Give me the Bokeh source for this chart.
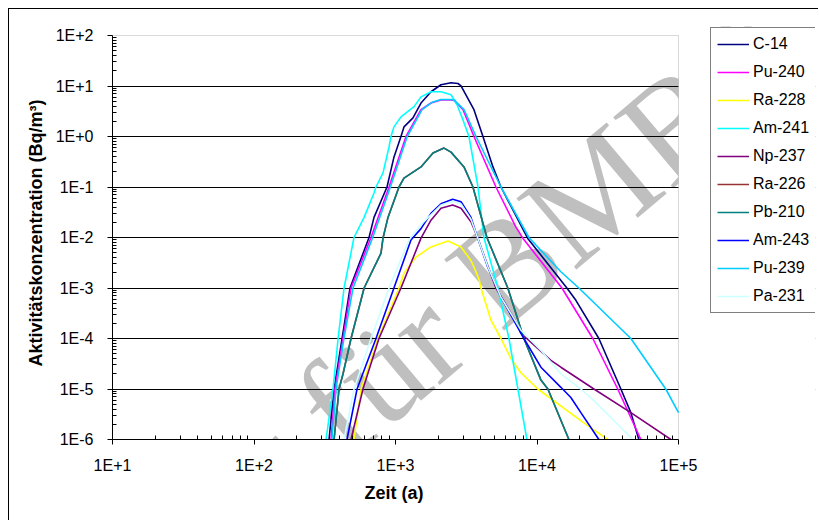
from bokeh.plotting import figure
from bokeh.models import (Range1d, FixedTicker, CustomJSTickFormatter, Label, Legend, LegendItem,
                          Title, Grid, BoxAnnotation)
from bokeh.embed import file_html
from bokeh.resources import INLINE

# ---- data ----
series_names = ["C-14", "Pu-240", "Ra-228", "Am-241", "Np-237",
                "Ra-226", "Pb-210", "Am-243", "Pu-239", "Pa-231"]
series_colors = ["#000080", "#FF00FF", "#FFFF00", "#00FFFF", "#800080",
                 "#993333", "#008080", "#0000FF", "#00CCFF", "#CCFFFF"]

c14_t = [339, 368, 419, 477, 650, 705, 871, 975, 1093, 1148, 1329, 1514, 1782, 2096, 2467, 2763, 2904,
         3585, 4150, 4883, 5560, 8580, 16260, 18830, 27370, 39150, 46060, 52460]
c14_a = [1e-6, 1e-5, 1e-4, 1e-3, 1e-2, 0.025, 0.1, 0.39, 1.0, 1.55, 2.34, 4.6, 7.7, 10.6, 11.6, 11.2, 10.1,
         3.4, 1.0, 0.25, 0.1, 0.0097, 1e-3, 5.7e-4, 1e-4, 1e-5, 3.4e-6, 1e-6]

pu240_t = [350, 374, 426, 485, 671, 900, 1186, 1514, 1782, 2096, 2467, 2590, 3000, 3585, 5126, 7096, 7940,
           15000, 24800, 37200, 54180]
pu240_a = [1e-6, 1e-5, 1e-4, 1e-3, 0.01, 0.1, 1.0, 3.4, 4.6, 5.3, 5.3, 5.2, 3.4, 1.0, 0.1, 0.016, 0.0097,
           1e-3, 1e-4, 1e-5, 1e-6]

ra228_t = [509, 571, 752, 1058, 1148, 1396, 1782, 2350, 2904, 3415, 3585, 3910, 4017, 4726, 5560, 6542,
           7697, 10140, 17350, 24030, 31680]
ra228_a = [1e-6, 1e-5, 1e-4, 1e-3, 0.00197, 0.0041, 0.0065, 0.0085, 0.0065, 0.0035, 0.0026, 0.00143, 1e-3,
           2.3e-4, 1e-4, 4e-5, 2.1e-5, 1e-5, 3.3e-6, 1.7e-6, 1e-6]

am241_t = [323, 362, 393, 433, 509, 600, 705, 728, 816, 900, 929, 975, 1093, 1352, 1514, 1782, 2096, 2467,
           2717, 3000, 3304, 3830, 4217, 5296, 6332, 7331, 8483]
am241_a = [1e-6, 1e-5, 1e-4, 1e-3, 0.01, 0.025, 0.076, 0.1, 0.19, 0.62, 1.0, 1.55, 2.45, 3.9, 6.1, 7.7, 7.7,
           6.7, 4.3, 2.13, 1.0, 0.1, 0.01, 1e-3, 1e-4, 1e-5, 1e-6]

np237_t = [485, 589, 764, 1093, 1514, 1782, 2096, 2535, 2904, 3415, 3800, 5126, 7210, 7697, 12540, 14750,
           25250, 46060, 88300]
np237_a = [1e-6, 1e-5, 1e-4, 1e-3, 0.0097, 0.022, 0.038, 0.044, 0.038, 0.0205, 0.01, 1e-3, 2.0e-4, 1.27e-4,
           3.7e-5, 2.7e-5, 1e-5, 3.4e-6, 1e-6]

ra226_t = [368, 399, 426, 485, 600, 790, 816, 885, 1058, 1148, 1514, 1841, 2201, 2467, 3048, 3525, 4426,
           6220, 8080, 10660, 11940, 16800]
ra226_a = [1e-6, 1e-5, 2e-5, 1e-4, 1e-3, 0.0049, 0.0097, 0.025, 0.1, 0.15, 0.25, 0.47, 0.59, 0.49, 0.25,
           0.1, 0.01, 1e-3, 1e-4, 1.5e-5, 1e-5, 1e-6]

pb210_t = [368, 399, 426, 485, 600, 790, 816, 885, 1058, 1148, 1514, 1841, 2201, 2467, 3048, 3525, 4426,
           6220, 8080, 10660, 11940, 16800]
pb210_a = [1e-6, 1e-5, 2e-5, 1e-4, 1e-3, 0.0049, 0.0097, 0.025, 0.1, 0.15, 0.25, 0.47, 0.59, 0.49, 0.25,
           0.1, 0.01, 1e-3, 1e-4, 1.5e-5, 1e-5, 1e-6]

am243_t = [454, 535, 728, 975, 1286, 1514, 1782, 2096, 2535, 2904, 3415, 3800, 4480, 5560, 8080, 10660,
           14750, 17350, 20420, 27370]
am243_a = [1e-6, 1e-5, 1e-4, 1e-3, 0.0089, 0.015, 0.030, 0.0466, 0.057, 0.051, 0.025, 0.01, 0.0026, 6.6e-4,
           1e-4, 2.7e-5, 1.08e-5, 6.8e-6, 3.4e-6, 1e-6]

pu239_t = [355, 380, 432, 501, 690, 920, 1210, 1540, 1800, 2096, 2467, 2590, 3050, 3706, 5560, 8764, 14750,
           19760, 46060, 81300, 100000]
pu239_a = [1e-6, 1e-5, 1e-4, 1e-3, 0.01, 0.1, 1.0, 3.4, 4.7, 5.4, 5.4, 5.3, 3.4, 1.0, 0.1, 0.01, 0.0021,
           1e-3, 1e-4, 1e-5, 3.4e-6]

pa231_t = [433, 509, 671, 900, 1245, 1514, 2096, 2549, 2904, 3415, 3800, 4502, 5560, 7697, 10660, 14750,
           20420, 25250, 47560]
pa231_a = [1e-6, 1e-5, 1e-4, 1e-3, 0.0089, 0.018, 0.044, 0.052, 0.046, 0.023, 0.01, 0.0026, 6.6e-4,
           1.46e-4, 5.8e-5, 2.0e-5, 1e-5, 5.9e-6, 1e-6]

series_t = [c14_t, pu240_t, ra228_t, am241_t, np237_t, ra226_t, pb210_t, am243_t, pu239_t, pa231_t]
series_a = [c14_a, pu240_a, ra228_a, am241_a, np237_a, ra226_a, pb210_a, am243_a, pu239_a, pa231_a]

x_major = [1e1, 1e2, 1e3, 1e4, 1e5]
y_major = [1e-6, 1e-5, 1e-4, 1e-3, 1e-2, 1e-1, 1e0, 1e1, 1e2]
y_grid = [1e-5, 1e-4, 1e-3, 1e-2, 1e-1, 1e0, 1e1]

x_title = "Zeit (a)"
y_title = "Aktivitätskonzentration (Bq/m³)"
watermark = "lar für BMBF"

FONT = "Liberation Sans"

# ---- geometry: the drawing area reaches under the legend, axes stop at 1E+5 / 1E+2 ----
X_DEC = 141.5          # px per decade on x
Y_DEC = 50.5           # px per decade on y
FRAME_W = 703
FRAME_H = 413
x_lo, x_hi = x_major[0], x_major[-1]
y_lo, y_hi = y_major[0], y_major[-1]
x_end = 10 ** (1 + FRAME_W / X_DEC)
y_end = 10 ** (-6 + FRAME_H / Y_DEC)

p = figure(width=810, height=512, x_axis_type="log", y_axis_type="log",
           x_range=Range1d(x_lo, x_end), y_range=Range1d(y_lo, y_end),
           output_backend="svg", toolbar_location=None,
           min_border_left=103, min_border_top=17, min_border_right=4, min_border_bottom=82)
p.styles = {"margin-left": "8px", "margin-top": "8px",
            "border-left": "1px solid black", "border-top": "1px solid black"}
p.background_fill_color = "white"
p.border_fill_color = "white"
p.outline_line_color = None
p.xgrid.visible = False
p.ygrid.visible = False

# faint watermark of the source document
p.add_layout(Label(x=62, y=-106, x_units="screen", y_units="screen", text=watermark,
                   angle=0.70, text_font="Liberation Serif", text_font_size="142px",
                   text_color="#BFBFBF", text_align="left", text_baseline="alphabetic",
                   level="underlay"))

# horizontal grid lines (over the watermark), then hide their part right of 1E+5
p.add_layout(Grid(dimension=1, ticker=FixedTicker(ticks=y_grid), grid_line_color="black",
                  grid_line_width=1, level="underlay"))
p.add_layout(BoxAnnotation(left=x_hi, right=x_end * 10, bottom=y_lo / 10, top=y_hi,
                           fill_color="white", fill_alpha=1, line_color=None, level="underlay"))
# plot-area border
p.add_layout(BoxAnnotation(left=x_lo, right=x_hi, bottom=y_lo, top=y_hi,
                           fill_color=None, fill_alpha=0, line_color="#808080", line_width=1,
                           level="underlay"))

x_minor = [m * 10.0 ** k for k in range(1, 5) for m in range(2, 10)]
y_minor = [m * 10.0 ** k for k in range(-6, 2) for m in range(2, 10)]

fmt = CustomJSTickFormatter(code="""
const e = Math.round(Math.log10(tick));
return "1E" + (e >= 0 ? "+" : "-") + Math.abs(e);
""")

p.xaxis.ticker = FixedTicker(ticks=x_major, minor_ticks=x_minor)
p.yaxis.ticker = FixedTicker(ticks=y_major, minor_ticks=y_minor)
p.xaxis.bounds = (x_lo, x_hi)
p.yaxis.bounds = (y_lo, y_hi)
for ax in (p.xaxis[0], p.yaxis[0]):
    ax.formatter = fmt
    ax.axis_line_color = "black"
    ax.major_tick_line_color = "black"
    ax.minor_tick_line_color = "black"
    ax.major_tick_out = 5
    ax.major_tick_in = 0
    ax.minor_tick_in = 4
    ax.minor_tick_out = 0
    ax.major_label_text_font = FONT
    ax.major_label_text_font_size = "16px"
    ax.major_label_text_color = "black"
    ax.axis_label_text_font = FONT
    ax.axis_label_text_font_size = "18px"
    ax.axis_label_text_font_style = "bold"
    ax.axis_label_text_color = "black"

p.yaxis.axis_label = y_title
p.xaxis.major_label_standoff = 12
p.yaxis.major_label_standoff = 14
p.yaxis.axis_label_standoff = 7

# x-axis title, centred under the 1E+1 .. 1E+5 span
p.add_layout(Title(text=x_title, align="left", offset=252, text_font=FONT, text_font_size="18px",
                   text_font_style="bold", text_color="black", standoff=8), "below")

items = []
for name, color, t, a in zip(series_names, series_colors, series_t, series_a):
    r = p.line(t, a, line_color=color, line_width=1.6)
    items.append(LegendItem(label=name, renderers=[r]))

lg = Legend(items=items, location=(598, 126))
lg.border_line_color = "black"
lg.border_line_width = 1
lg.background_fill_color = "white"
lg.background_fill_alpha = 1
lg.label_text_font = FONT
lg.label_text_font_size = "16px"
lg.label_text_color = "black"
lg.label_height = 20
lg.glyph_height = 20
lg.glyph_width = 32
lg.spacing = 8
lg.padding = 6
lg.label_standoff = 4
lg.margin = 0
p.add_layout(lg, "center")

open("out.html", "w").write(file_html(p, INLINE))
